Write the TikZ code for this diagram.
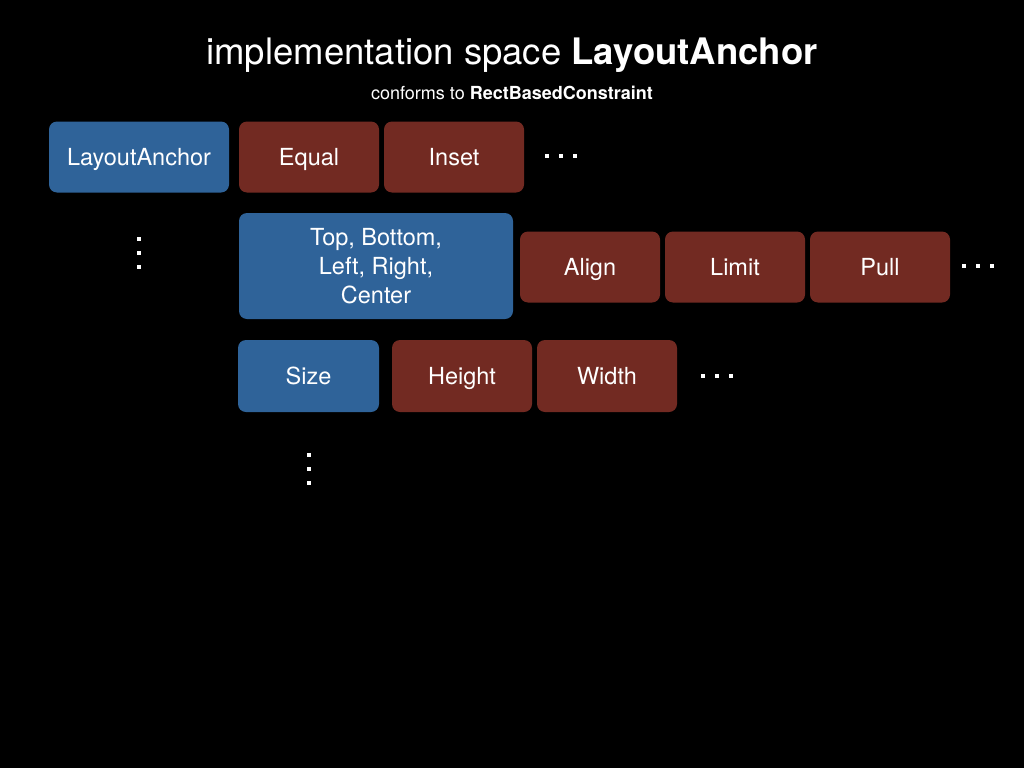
\documentclass[tikz,border=0pt]{standalone}
\usepackage{fontspec}
\setmainfont{TeX Gyre Heros}
\definecolor{boxblue}{HTML}{2F6399}
\definecolor{boxred}{HTML}{722A22}
\tikzset{
  cbox/.style={rounded corners=8pt, minimum height=71pt, inner sep=0pt, text=white, font=\fontsize{23.5}{29}\selectfont, align=center},
  onel/.style={text height=17pt, text depth=0pt},
  bluebox/.style={cbox, fill=boxblue},
  redbox/.style={cbox, fill=boxred},
  dotsq/.style={fill=white}
}
\newcommand{\myhdots}[2]{\foreach \i in {0,1,2} {\fill[dotsq] ({#1+\i*14-2.2},{#2-2.2}) rectangle ++(4.4,4.4);}}
\newcommand{\myvdots}[2]{\foreach \i in {0,1,2} {\fill[dotsq] ({#1-2.2},{#2+\i*14-2.2}) rectangle ++(4.4,4.4);}}
\begin{document}
\begin{tikzpicture}[x=1pt,y=-1pt]
\fill[black] (0,0) rectangle (1024,768);
\useasboundingbox (0,0) rectangle (1024,768);
\node (title) at (512,55) {\color{white}\fontsize{36.5}{42}\selectfont implementation space \textbf{LayoutAnchor}};
\node (sub) at (512,93) {\color{white}\fontsize{18}{22}\selectfont conforms to \textbf{RectBasedConstraint}};
% row 1
\node[bluebox, onel, minimum width=180pt] (la) at (139,157) {LayoutAnchor};
\node[redbox, onel, minimum width=140pt] (eq) at (309,157) {Equal};
\node[redbox, onel, minimum width=140pt] (in) at (454,157) {Inset};
\myhdots{547}{156}
\myvdots{139}{239}
% row 2
\node[bluebox, minimum width=274pt, minimum height=106pt] (tb) at (376,266) {Top, Bottom,\\Left, Right,\\Center};
\node[redbox, onel, minimum width=140pt] (al) at (590,267) {Align};
\node[redbox, onel, minimum width=140pt] (li) at (735,267) {Limit};
\node[redbox, onel, minimum width=140pt] (pu) at (880,267) {Pull};
\myhdots{964}{266}
% row 3
\node[bluebox, onel, minimum width=141pt, minimum height=72pt] (sz) at (308.5,376) {Size};
\node[redbox, onel, minimum width=140pt, minimum height=72pt] (he) at (462,376) {Height};
\node[redbox, onel, minimum width=140pt, minimum height=72pt] (wi) at (607,376) {Width};
\myhdots{703}{376}
\myvdots{309}{455}
\end{tikzpicture}
\end{document}
